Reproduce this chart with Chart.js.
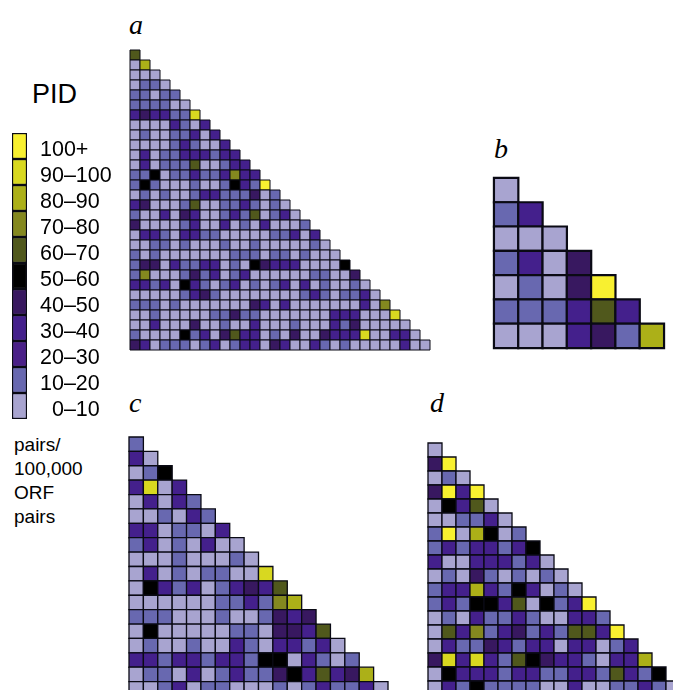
<!DOCTYPE html>
<html>
<head>
<meta charset="utf-8">
<title>PID heatmaps</title>
<script src="https://cdn.jsdelivr.net/npm/chart.js@4"></script>
<style>
  html, body { margin: 0; padding: 0; background: #fff; }
  #page { position: relative; width: 673px; height: 690px; overflow: hidden; }
  canvas { position: absolute; }
  .panel { position: absolute; font: italic 28px "Liberation Serif", serif; color: #000; line-height: 1; }
  .note { position: absolute; font: 19px "Liberation Sans", sans-serif; color: #000; line-height: 1; }
</style>
</head>
<body>
<div id="page">
  <div class="panel" style="left:129px;top:11px">a</div>
  <div class="panel" style="left:494px;top:135px">b</div>
  <div class="panel" style="left:129px;top:389px">c</div>
  <div class="panel" style="left:430px;top:389px">d</div>
  <div class="note" style="left:32px;top:81px;font-size:27px">PID</div>
  <div class="note" style="left:14px;top:435px">pairs/</div>
  <div class="note" style="left:14px;top:459px">100,000</div>
  <div class="note" style="left:14px;top:483px">ORF</div>
  <div class="note" style="left:14px;top:507px">pairs</div>
  <canvas id="legend"></canvas>
  <canvas id="a"></canvas>
  <canvas id="b"></canvas>
  <canvas id="c"></canvas>
  <canvas id="d"></canvas>
</div>
<script>
// bottom to top, index is the bin number used in the panels
const binLabels = ['\u20070–10', '10–20', '20–30', '30–40', '40–50', '50–60', '60–70', '70–80', '80–90', '90–100', '100+'];
const binColors = ['#a8a4d0', '#6868b0', '#4a2088', '#44208c', '#381860', '#000000', '#50581c', '#84881f', '#acb018', '#d8d820', '#f8f030'];

const panelA = [
  [6],
  [0, 8],
  [0, 0, 0],
  [0, 1, 1, 0],
  [1, 1, 0, 1, 1],
  [1, 1, 1, 1, 0, 0],
  [3, 4, 3, 3, 1, 1, 9],
  [0, 0, 0, 0, 3, 1, 0, 3],
  [0, 1, 0, 0, 1, 1, 3, 0, 3],
  [0, 0, 0, 0, 1, 3, 1, 0, 0, 3],
  [0, 3, 0, 1, 1, 3, 3, 3, 1, 3, 3],
  [0, 3, 0, 1, 1, 1, 6, 0, 0, 1, 3, 3],
  [1, 1, 5, 0, 1, 1, 3, 1, 1, 3, 7, 3, 3],
  [1, 5, 1, 0, 0, 0, 1, 0, 0, 1, 5, 3, 1, 10],
  [0, 1, 0, 1, 0, 0, 1, 3, 3, 1, 1, 1, 4, 0, 1],
  [3, 4, 0, 0, 0, 1, 6, 0, 0, 1, 1, 3, 1, 0, 1, 0],
  [1, 0, 0, 3, 0, 4, 3, 0, 0, 1, 3, 1, 6, 0, 1, 3, 0],
  [4, 0, 0, 0, 0, 1, 3, 0, 0, 3, 0, 1, 0, 3, 0, 0, 0, 1],
  [0, 3, 3, 1, 0, 3, 3, 1, 1, 0, 0, 0, 0, 0, 1, 1, 3, 0, 3],
  [0, 0, 1, 1, 0, 1, 0, 0, 0, 1, 0, 0, 1, 0, 0, 0, 0, 0, 1, 0],
  [1, 0, 1, 0, 0, 0, 0, 0, 0, 0, 1, 1, 1, 0, 1, 1, 0, 1, 0, 0, 0],
  [1, 4, 4, 0, 3, 1, 1, 3, 3, 0, 1, 0, 5, 4, 3, 3, 3, 0, 0, 0, 0, 5],
  [1, 7, 0, 0, 0, 1, 4, 1, 3, 0, 1, 3, 0, 0, 0, 0, 0, 0, 1, 1, 0, 0, 4],
  [3, 3, 1, 3, 0, 5, 3, 1, 0, 1, 3, 0, 1, 0, 1, 3, 0, 3, 0, 1, 0, 0, 1, 0],
  [0, 0, 0, 0, 0, 1, 3, 4, 1, 0, 0, 0, 0, 0, 0, 0, 0, 1, 3, 1, 0, 1, 1, 3, 0],
  [1, 1, 1, 0, 1, 0, 0, 0, 0, 0, 0, 0, 4, 3, 0, 3, 0, 0, 0, 0, 0, 0, 0, 3, 0, 7],
  [0, 0, 1, 0, 0, 0, 0, 0, 1, 1, 4, 1, 1, 0, 0, 0, 0, 0, 0, 0, 3, 3, 3, 0, 0, 0, 9],
  [0, 0, 3, 0, 0, 0, 4, 0, 0, 1, 0, 0, 3, 0, 0, 0, 1, 0, 0, 0, 3, 1, 4, 0, 0, 0, 0, 0],
  [1, 0, 0, 0, 0, 5, 1, 3, 0, 4, 6, 3, 3, 0, 1, 0, 4, 0, 0, 4, 3, 3, 3, 9, 0, 0, 3, 3, 0],
  [4, 3, 0, 1, 1, 1, 0, 1, 3, 0, 1, 3, 3, 0, 4, 3, 0, 0, 3, 1, 0, 1, 0, 0, 0, 0, 0, 3, 0, 0]
];

const panelB = [
  [0],
  [1, 3],
  [0, 0, 0],
  [1, 3, 0, 4],
  [0, 1, 0, 4, 10],
  [1, 1, 1, 3, 6, 3],
  [0, 0, 0, 3, 4, 1, 8]
];

const panelC = [
  [1],
  [3, 0],
  [0, 1, 5],
  [3, 9, 0, 3],
  [0, 3, 0, 3, 1],
  [0, 0, 1, 0, 3, 1],
  [3, 3, 0, 1, 1, 0, 3],
  [1, 3, 0, 1, 0, 3, 0, 0],
  [0, 0, 0, 1, 0, 0, 0, 1, 0],
  [0, 3, 0, 1, 0, 1, 1, 0, 0, 9],
  [0, 5, 3, 1, 3, 0, 1, 3, 4, 3, 6],
  [0, 0, 0, 0, 0, 0, 1, 1, 3, 1, 7, 8],
  [1, 1, 1, 0, 0, 0, 1, 0, 0, 1, 4, 3, 4],
  [0, 5, 0, 0, 0, 0, 0, 1, 1, 0, 4, 4, 3, 6],
  [0, 1, 0, 0, 1, 0, 0, 3, 1, 0, 3, 3, 1, 3, 0],
  [3, 3, 1, 3, 3, 1, 3, 3, 1, 5, 5, 0, 3, 1, 0, 1],
  [0, 1, 1, 0, 3, 0, 1, 3, 1, 1, 4, 5, 3, 6, 3, 4, 8],
  [0, 0, 1, 3, 0, 1, 1, 0, 0, 0, 1, 0, 1, 3, 1, 1, 3, 0]
];

const panelD = [
  [0],
  [4, 10],
  [0, 1, 0],
  [4, 10, 3, 10],
  [0, 5, 3, 6, 0],
  [0, 0, 1, 1, 3, 0],
  [1, 10, 0, 8, 5, 0, 1],
  [1, 3, 1, 3, 3, 1, 3, 5],
  [3, 0, 0, 3, 3, 3, 1, 3, 0],
  [0, 1, 0, 4, 1, 0, 1, 0, 1, 0],
  [1, 3, 3, 8, 3, 1, 5, 3, 0, 1, 0],
  [1, 3, 1, 5, 5, 3, 6, 0, 5, 1, 3, 10],
  [0, 1, 0, 3, 1, 1, 3, 1, 0, 0, 3, 3, 1],
  [0, 6, 3, 7, 1, 3, 4, 1, 3, 1, 6, 6, 3, 10],
  [0, 3, 1, 1, 4, 3, 1, 3, 3, 0, 3, 3, 0, 1, 3],
  [4, 9, 3, 9, 3, 1, 6, 5, 4, 3, 3, 1, 0, 3, 3, 8],
  [0, 5, 3, 3, 3, 1, 3, 3, 1, 1, 3, 3, 1, 6, 3, 1, 5],
  [0, 3, 1, 5, 1, 1, 1, 1, 0, 0, 3, 0, 0, 1, 1, 3, 1, 0]
];

// triangle panel: one square point per cell, placed by hidden linear scales
function triangle(id, rows, left, top, cell, border) {
  const canvas = document.getElementById(id);
  const n = rows.length;
  const pad = 2;
  canvas.width = n * cell + pad * 2;
  canvas.height = n * cell + pad * 2;
  canvas.style.left = (left - pad) + 'px';
  canvas.style.top = (top - pad) + 'px';

  const points = [];
  const colors = [];
  rows.forEach((row, y) => {
    row.forEach((bin, x) => {
      points.push({ x: x + 0.5, y: y + 0.5 });
      colors.push(binColors[bin]);
    });
  });

  new Chart(canvas, {
    type: 'scatter',
    data: {
      datasets: [{
        data: points,
        pointStyle: 'rect',
        pointRadius: cell * Math.SQRT1_2,
        pointHoverRadius: cell * Math.SQRT1_2,
        pointBackgroundColor: colors,
        pointBorderColor: '#0a0a14',
        pointBorderWidth: border,
        clip: false,
      }],
    },
    options: {
      responsive: false,
      animation: false,
      events: [],
      layout: { padding: pad, autoPadding: false },
      plugins: { legend: { display: false }, tooltip: { enabled: false } },
      scales: {
        x: { type: 'linear', display: false, min: 0, max: n },
        y: { type: 'linear', display: false, min: 0, max: n, reverse: true },
      },
    },
  });
}

triangle('a', panelA, 130, 50, 10, 1);
triangle('b', panelB, 493.5, 177.5, 24.4, 2.2);
triangle('c', panelC, 128.5, 437, 14.4, 1.3);
triangle('d', panelD, 427.5, 442.5, 14, 1.3);

// colour key: horizontal bars with the bin names as the right hand axis
const legendCanvas = document.getElementById('legend');
legendCanvas.width = 125;
legendCanvas.height = 296;
legendCanvas.style.left = '0px';
legendCanvas.style.top = '128px';

new Chart(legendCanvas, {
  type: 'bar',
  data: {
    labels: binLabels,
    datasets: [{
      data: binLabels.map(() => 1),
      backgroundColor: binColors,
      borderColor: '#0a0a14',
      borderWidth: 1.5,
      borderSkipped: false,
      barPercentage: 1,
      categoryPercentage: 1,
    }],
  },
  options: {
    indexAxis: 'y',
    responsive: false,
    animation: false,
    events: [],
    layout: { padding: { left: 12, top: 5, bottom: 5, right: 0 }, autoPadding: false },
    plugins: { legend: { display: false }, tooltip: { enabled: false } },
    scales: {
      x: { display: false, min: 0, max: 1 },
      y: {
        position: 'right',
        reverse: true,
        grid: { display: false, drawTicks: false },
        border: { display: false },
        // tick labels must not shrink the plot height
        afterFit: (scale) => {
          scale.width = 98;
          scale.paddingTop = 0;
          scale.paddingBottom = 0;
        },
        ticks: {
          color: '#000',
          autoSkip: false,
          padding: 13,
          labelOffset: 4,
          crossAlign: 'near',
          font: { family: '"Liberation Sans", sans-serif', size: 21.5 },
        },
      },
    },
  },
});
</script>
</body>
</html>
